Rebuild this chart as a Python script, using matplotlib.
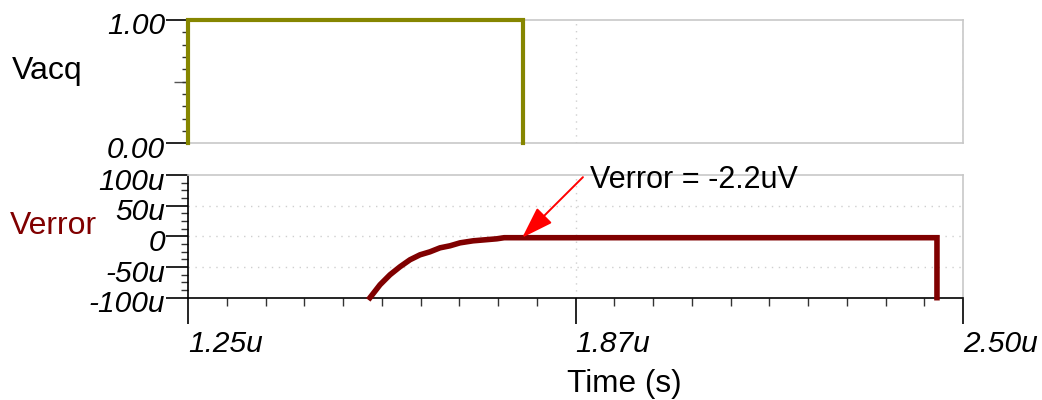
import matplotlib
matplotlib.use("Agg")
import matplotlib.pyplot as plt
from matplotlib.ticker import FixedLocator, MultipleLocator
from matplotlib.transforms import ScaledTranslation

# ---- data (time in microseconds, Verror in microvolts) ----
t_acq = [1.25, 1.25, 1.79, 1.79]
v_acq = [0.0, 1.0, 1.0, 0.0]

t_err = [1.5435, 1.5597, 1.5758, 1.5919, 1.6080, 1.6242, 1.6403, 1.6565,
         1.6726, 1.6887, 1.7097, 1.7480, 1.7600, 2.4580, 2.4580]
v_err = [-100.0, -78.9, -62.6, -49.6, -38.2, -30.1, -25.2, -18.7,
         -15.4, -10.6, -7.3, -4.0, -2.2, -2.2, -100.0]

x_major = [1.25, 1.875, 2.50]
x_labels = ["1.25u", "1.87u", "2.50u"]
y1_ticks = [0.0, 1.0]
y1_labels = ["0.00", "1.00"]
y2_ticks = [-100, -50, 0, 50, 100]
y2_labels = ["-100u", "-50u", "0", "50u", "100u"]
ann_text = "Verror = -2.2uV"
ann_value = -2.2
ann_time = 1.789

FONT = "Liberation Sans"
FS = 21.5
LFS = 23
OLIVE = "#868600"
DRED = "#800000"
GRAY = "#c8c8c8"
GRID = "#cfcfcf"

fig = plt.figure(figsize=(10.42, 4.0), dpi=100)
W, H = 1042, 400
def rect(x0, y0, x1, y1):
    return [x0 / W, 1 - y1 / H, (x1 - x0) / W, (y1 - y0) / H]

ax1 = fig.add_axes(rect(188, 20, 963, 143.3))
ax2 = fig.add_axes(rect(188, 175, 963, 297.7))

for ax in (ax1, ax2):
    ax.set_xlim(1.25, 2.50)
    for s in ("top", "right"):
        ax.spines[s].set_color(GRAY)
        ax.spines[s].set_linewidth(1.2)
    ax.spines["left"].set_color("black")
    ax.spines["left"].set_linewidth(1.2)
    ax.set_facecolor("white")

# ---- top panel ----
ax1.plot(t_acq, v_acq, color=OLIVE, lw=3.0, clip_on=False, zorder=5,
         solid_joinstyle="miter")
ax1.set_ylim(0, 1)
ax1.spines["bottom"].set_color(GRAY)
ax1.spines["bottom"].set_linewidth(1.2)
ax1.xaxis.set_major_locator(FixedLocator(x_major))
ax1.tick_params(axis="x", which="both", length=0, labelbottom=False)
ax1.grid(axis="x", color=GRID, linestyle=(0, (1, 4)), lw=1.0)
ax1.set_yticks(y1_ticks)
ax1.set_yticklabels(y1_labels, fontfamily=FONT, fontsize=FS, fontstyle="italic")
ax1.yaxis.set_minor_locator(MultipleLocator(0.1))
ax1.tick_params(axis="y", which="major", length=16, width=1.2, pad=0.5)
ax1.tick_params(axis="y", which="minor", length=4.5, width=1.0, color="#333333")
sec = ax1.secondary_yaxis("left")
sec.set_yticks([0.5])
sec.set_yticklabels([""])
sec.tick_params(axis="y", length=10, width=1.0, color="#555555")
sec.spines["left"].set_visible(False)

# ---- bottom panel ----
ax2.plot(t_err, v_err, color=DRED, lw=4.0, clip_on=False, zorder=5,
         solid_joinstyle="miter")
ax2.set_ylim(-100, 100)
ax2.spines["bottom"].set_color("black")
ax2.spines["bottom"].set_linewidth(1.2)
ax2.set_yticks(y2_ticks)
ax2.set_yticklabels(y2_labels, fontfamily=FONT, fontsize=FS, fontstyle="italic")
ax2.yaxis.set_minor_locator(MultipleLocator(12.5))
ax2.tick_params(axis="y", which="major", length=16, width=1.2, pad=0.5)
ax2.tick_params(axis="y", which="minor", length=5, width=1.0, color="#333333")
ax2.set_xticks(x_major)
ax2.set_xticklabels(x_labels, fontfamily=FONT, fontsize=FS, fontstyle="italic",
                    ha="left")
ax2.xaxis.set_minor_locator(MultipleLocator(0.0625))
ax2.tick_params(axis="x", which="major", length=19, width=1.2, pad=4.5)
ax2.tick_params(axis="x", which="minor", length=6, width=1.0, color="#333333")
for g in (-50, 0, 50):
    ax2.axhline(g, color=GRID, linestyle=(0, (1, 4)), lw=1.0, zorder=0)
ax2.axvline(1.875, color=GRID, linestyle=(0, (1, 4)), lw=1.0, zorder=0)

# shift y tick labels slightly downward, as in the reference
off = ScaledTranslation(0, -3.5 / 100, fig.dpi_scale_trans)
for ax in (ax1, ax2):
    for lab in ax.get_yticklabels():
        lab.set_transform(lab.get_transform() + off)

# annotation
ax2.annotate("", xy=(ann_time, ann_value), xytext=(1.887, 96.5),
             arrowprops=dict(arrowstyle="-|>,head_length=0.9,head_width=0.3",
                             color="red", lw=1.4, mutation_scale=22,
                             shrinkA=0, shrinkB=0), annotation_clip=False,
             zorder=6)
ax2.text(1.898, 79, ann_text, fontfamily=FONT, fontsize=22, ha="left",
         va="baseline", clip_on=False, zorder=7)

# labels
fig.text(12 / W, 1 - 71 / H, "Vacq", fontfamily=FONT, fontsize=LFS,
         ha="left", va="center")
fig.text(10 / W, 1 - 226 / H, "Verror", fontfamily=FONT, fontsize=LFS,
         ha="left", va="center", color=DRED)
fig.text(624 / W, 1 - 384 / H, "Time (s)", fontfamily=FONT, fontsize=22.7,
         ha="center", va="center")

fig.savefig("out.png", dpi=100, facecolor="white")
